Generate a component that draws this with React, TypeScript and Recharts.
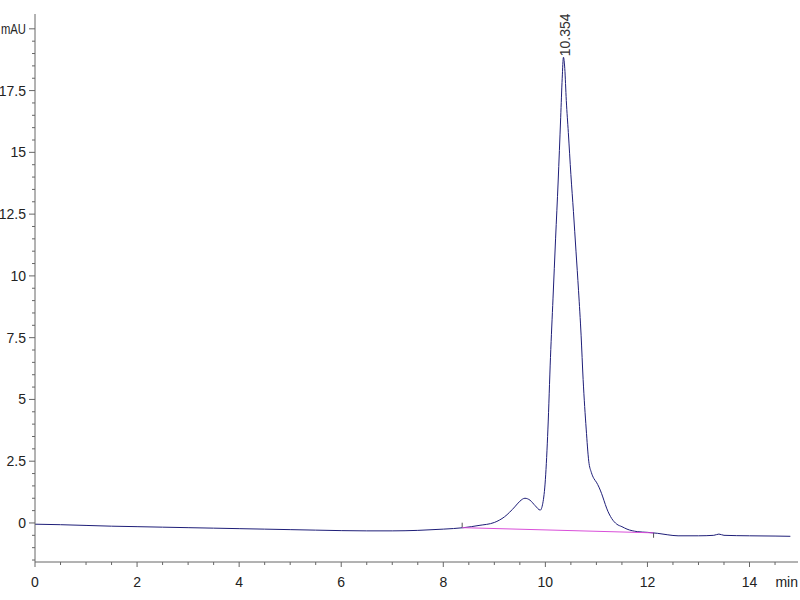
import { ComposedChart, Line, Scatter, XAxis, YAxis, ReferenceLine } from 'recharts';

// retention time (min) and detector signal (mAU)
const times = [
  0, 0.5, 1.0, 1.5, 2.0, 2.5, 3.0, 3.5, 4.0, 4.5, 5.0, 5.5, 6.0, 6.5, 7.0, 7.5, 8.0, 8.4, 8.7,
  9.0, 9.2, 9.4, 9.5, 9.6, 9.7, 9.8, 9.9, 9.95, 10.0, 10.05, 10.1, 10.15, 10.2, 10.25, 10.3,
  10.33, 10.354, 10.38, 10.41, 10.45, 10.5, 10.55, 10.6, 10.65, 10.7, 10.74, 10.8, 10.85, 10.9,
  10.95, 11.0, 11.05, 11.1, 11.15, 11.2, 11.3, 11.4, 11.5, 11.6, 11.8, 12.0, 12.2, 12.4, 12.6,
  13.0, 13.3, 13.4, 13.5, 14.0, 14.5, 14.8,
];
const signal = [
  -0.05, -0.07, -0.1, -0.13, -0.15, -0.17, -0.19, -0.21, -0.23, -0.25, -0.27, -0.29, -0.31, -0.32, -0.32, -0.3, -0.25, -0.19, -0.1,
  0.02, 0.25, 0.65, 0.88, 1.0, 0.92, 0.7, 0.52, 0.8, 1.75, 3.8, 6.7, 9.1, 11.5, 13.8, 16.4,
  18.0, 18.85, 18.4, 17.1, 15.8, 14.1, 12.6, 11.0, 9.4, 7.6, 5.8, 3.8, 2.5, 2.05,
  1.8, 1.65, 1.45, 1.2, 0.9, 0.6, 0.18, -0.05, -0.15, -0.25, -0.35, -0.38, -0.42, -0.48, -0.52,
  -0.52, -0.5, -0.45, -0.5, -0.52, -0.53, -0.54,
];

// integration baseline of the main peak
const baseTimes = [8.37, 12.12];
const baseValues = [-0.19, -0.4];

const peakTime = [10.354];
const peakHeight = [18.85];
const peakLabel = ['10.354'];

const xMajor = [0, 2, 4, 6, 8, 10, 12, 14];
const xTicks = [
  0, 0.5, 1, 1.5, 2, 2.5, 3, 3.5, 4, 4.5, 5, 5.5, 6, 6.5, 7, 7.5,
  8, 8.5, 9, 9.5, 10, 10.5, 11, 11.5, 12, 12.5, 13, 13.5, 14, 14.5, 14.95,
];
const xUnitAt = 14.95;
const yMajor = [0, 2.5, 5, 7.5, 10, 12.5, 15, 17.5];
const yTicks = [
  -1.5, -1, -0.5, 0, 0.5, 1, 1.5, 2, 2.5, 3, 3.5, 4, 4.5, 5, 5.5, 6, 6.5, 7, 7.5, 8, 8.5, 9, 9.5,
  10, 10.5, 11, 11.5, 12, 12.5, 13, 13.5, 14, 14.5, 15, 15.5, 16, 16.5, 17, 17.5, 18, 18.5, 19, 19.5, 20,
];
const yUnitAt = 20;

const trace = times.map((t, i) => ({ t, v: signal[i] }));
const baseline = baseTimes.map((t, i) => ({ t, v: baseValues[i] }));
const peaks = peakTime.map((t, i) => ({ t, v: peakHeight[i], label: peakLabel[i] }));

const font = '"Liberation Sans", Arial, sans-serif';

const XTick = (props: any) => {
  const { x, y, payload } = props;
  const v = payload.value;
  if (v === xUnitAt) {
    return (
      <text x={x} y={y + 25} textAnchor="end" fontSize={14} fontFamily={font} fill="#222">min</text>
    );
  }
  const major = xMajor.includes(v);
  return (
    <g>
      <line x1={x} y1={y} x2={x} y2={y + (major ? 5 : 3)} stroke="#666" />
      {major && (
        <text x={x} y={y + 25} textAnchor="middle" fontSize={14} fontFamily={font} fill="#222">{v}</text>
      )}
    </g>
  );
};

const YTick = (props: any) => {
  const { x, y, payload } = props;
  const v = payload.value;
  const unit = v === yUnitAt;
  const major = yMajor.includes(v) || unit;
  return (
    <g>
      <line x1={x} y1={y} x2={x - (major ? 6 : 3)} y2={y} stroke="#666" />
      {major && (
        <text
          x={x - 9}
          y={y + 5}
          textAnchor="end"
          fontSize={14}
          fontFamily={font}
          fill="#222"
          textLength={unit ? 25 : undefined}
          lengthAdjust={unit ? 'spacingAndGlyphs' : undefined}
        >
          {unit ? 'mAU' : v}
        </text>
      )}
    </g>
  );
};

const PeakName = (props: any) => {
  const { cx, cy, payload } = props;
  return (
    <text
      x={cx + 2}
      y={cy - 1}
      transform={`rotate(-90 ${cx + 2} ${cy - 1})`}
      textAnchor="start"
      dominantBaseline="central"
      fontSize={14}
      fontFamily={font}
      fill="#333"
    >
      {payload.label}
    </text>
  );
};

export default function App() {
  return (
    <div style={{ position: 'fixed', left: 0, top: 0, background: '#fff' }}>
      <ComposedChart width={800} height={600} margin={{ top: 14, right: 2, bottom: 8, left: 0 }}>
        <XAxis
          type="number"
          dataKey="t"
          domain={[0, 14.95]}
          ticks={xTicks}
          interval={0}
          tick={<XTick />}
          tickLine={false}
          tickSize={0}
          tickMargin={0}
          height={30}
          stroke="#666"
          allowDataOverflow
        />
        <YAxis
          type="number"
          dataKey="v"
          domain={[-1.58, 20.6]}
          ticks={yTicks}
          interval={0}
          tick={<YTick />}
          tickLine={false}
          tickSize={0}
          tickMargin={0}
          width={35}
          stroke="#666"
          allowDataOverflow
        />
        {baseTimes.map((t, i) => (
          <ReferenceLine
            key={t}
            segment={[
              { x: t, y: baseValues[i] },
              { x: t, y: baseValues[i] + (i === 0 ? 0.2 : -0.2) },
            ]}
            stroke="#555"
          />
        ))}
        <Line
          data={trace}
          dataKey="v"
          type="monotone"
          stroke="#1e1e78"
          strokeWidth={1}
          dot={false}
          isAnimationActive={false}
        />
        <Line
          data={baseline}
          dataKey="v"
          type="linear"
          stroke="#d94fd9"
          strokeWidth={1}
          dot={false}
          isAnimationActive={false}
        />
        <Scatter data={peaks} dataKey="v" shape={<PeakName />} isAnimationActive={false} />
      </ComposedChart>
    </div>
  );
}
